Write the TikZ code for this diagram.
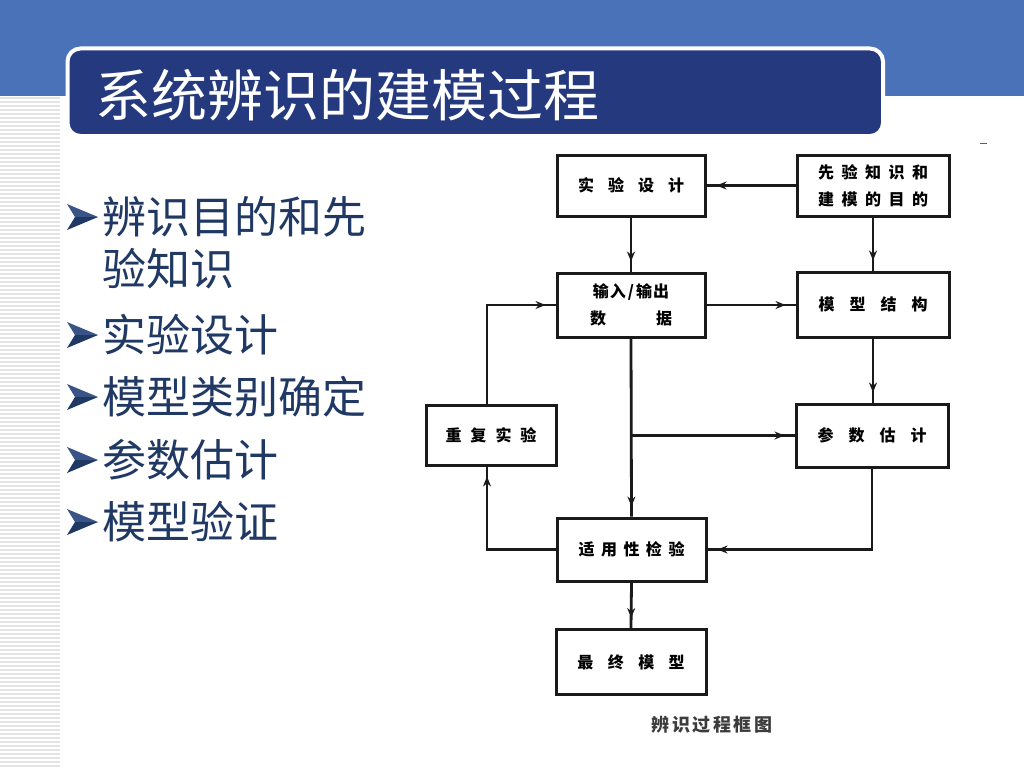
\documentclass[tikz,border=0pt]{standalone}
\usepackage{fontspec}
\newfontfamily\cjk{Noto Sans CJK SC}
\usetikzlibrary{arrows.meta,decorations.markings}
\definecolor{band}{HTML}{4A72B8}
\definecolor{navy}{HTML}{253A7E}
\definecolor{bultxt}{HTML}{1F3864}
\definecolor{bulhi}{HTML}{3A5488}
\definecolor{stripe}{HTML}{E4E4E4}
\definecolor{ink}{HTML}{1A1A1A}
\tikzset{
  fbox/.style={draw=ink, line width=3pt, inner sep=0pt, align=center,
    font=\cjk\bfseries\fontsize{16}{27}\selectfont},
  flow/.style={draw=ink, line width=2.8pt, postaction={decorate},
    decoration={markings, mark=at position -10pt with {\arrow{Stealth[length=10pt,width=8pt]}}}},
  bul/.style={anchor=west, text=bultxt, inner sep=0pt, font=\cjk\fontsize{44}{50}\selectfont},
}
\begin{document}
\begin{tikzpicture}[x=1pt,y=-1pt]
\useasboundingbox (0,0) rectangle (1024,768);
\fill[white] (0,0) rectangle (1024,768);
% top band
\fill[band] (0,0) rectangle (1024,96);
% left stripes
\foreach \yy in {98,102,...,766} \draw[stripe, line width=1.2pt] (0,\yy) -- (60,\yy);
% title bar
\draw[fill=navy, draw=white, line width=4pt, rounded corners=13pt] (67.5,48.5) rectangle (883,136);
\node[anchor=west, text=white, inner sep=0pt, font=\cjk\fontsize{56}{60}\selectfont] (title) at (95,95) {系统辨识的建模过程};
% bullets
\foreach \yy in {217,335,397,460,522} {
  \fill[bulhi] (98,\yy) -- (67,\yy-13) -- (75,\yy) -- cycle;
  \fill[bultxt] (98,\yy) -- (75,\yy) -- (67,\yy+13) -- cycle;
}
\node[bul] (b1) at (102,217) {辨识目的和先};
\node[bul] (b1b) at (102,269) {验知识};
\node[bul] (b2) at (102,335) {实验设计};
\node[bul] (b3) at (102,397) {模型类别确定};
\node[bul] (b4) at (102,460) {参数估计};
\node[bul] (b5) at (102,522) {模型验证};
% flowchart boxes
\node[fbox, minimum width=148pt, minimum height=61pt] (sj) at (631,185.5) {实\hspace{14pt}验\hspace{14pt}设\hspace{14pt}计};
\node[fbox, minimum width=152pt, minimum height=61pt] (xy) at (873,185.5) {先\hspace{7.5pt}验\hspace{7.5pt}知\hspace{7.5pt}识\hspace{7.5pt}和\\建\hspace{7.5pt}模\hspace{7.5pt}的\hspace{7.5pt}目\hspace{7.5pt}的};
\node[fbox, minimum width=148pt, minimum height=64pt] (io) at (631,305) {输\hspace{1pt}入\hspace{2pt}/\hspace{2pt}输\hspace{1pt}出\\\makebox[82pt]{数\hfill 据}};
\node[fbox, minimum width=152pt, minimum height=65pt] (mx) at (873,304.5) {模\hspace{15pt}型\hspace{15pt}结\hspace{15pt}构};
\node[fbox, minimum width=130pt, minimum height=60pt] (cf) at (491,435) {重\hspace{9pt}复\hspace{9pt}实\hspace{9pt}验};
\node[fbox, minimum width=152pt, minimum height=63pt] (cs) at (872,435.5) {参\hspace{15pt}数\hspace{15pt}估\hspace{15pt}计};
\node[fbox, minimum width=149pt, minimum height=63pt] (sy) at (631.5,549.5) {适\hspace{6.5pt}用\hspace{6.5pt}性\hspace{6.5pt}检\hspace{6.5pt}验};
\node[fbox, minimum width=150pt, minimum height=65pt] (zz) at (631,662) {最\hspace{14.5pt}终\hspace{14.5pt}模\hspace{14.5pt}型};
\node[inner sep=0pt, text=ink!85, font=\cjk\bfseries\fontsize{18}{20}\selectfont] (cap) at (712,725) {辨\hspace{2.5pt}识\hspace{2.5pt}过\hspace{2.5pt}程\hspace{2.5pt}框\hspace{2.5pt}图};
% connectors
\coordinate (lx) at (487,0);
\draw[flow] (xy.west) -- (sj.east);
\draw[flow] (sj.south) -- (io.north);
\draw[flow] (xy.south) -- (mx.north);
\draw[flow] (io.east) -- (io.east -| mx.west);
\draw[flow] (io.south) -- (sy.north);
\draw[flow] (cs.west -| io.south) -- (cs.west);
\draw[flow] (mx.south) -- (mx.south |- cs.north);
\draw[flow] (cs.south) -- (cs.south |- sy.east) -- (sy.east);
\draw[flow] (sy.west) -- (sy.west -| lx) -- (cf.south -| lx);
\draw[flow] (cf.north -| lx) -- (io.west -| lx) -- (io.west);
\draw[flow] (sy.south) -- (zz.north);
% small mark at top right
\coordinate (m1) at (980,143);
\coordinate (m2) at (987,143);
\draw[ink!70, line width=1pt] (m1) -- (m2);
\end{tikzpicture}
\end{document}
